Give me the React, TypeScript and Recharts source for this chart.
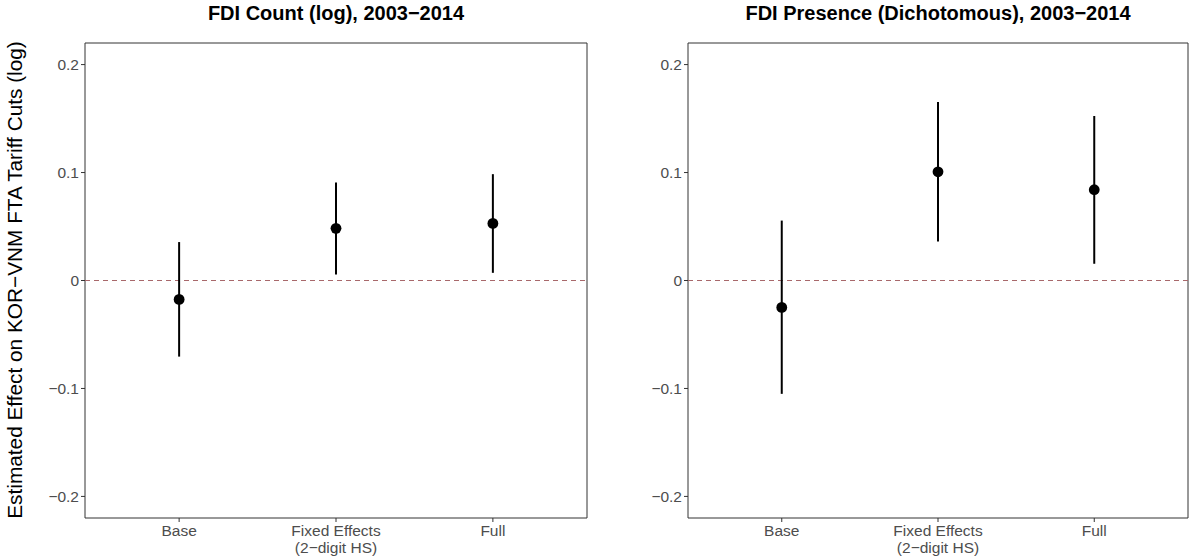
import React from "react";
import {
  ComposedChart,
  Scatter,
  ErrorBar,
  XAxis,
  YAxis,
  ReferenceLine,
  ReferenceArea,
} from "recharts";

// model labels along the x axis
const categories = ["Base", "Fixed Effects\n(2\u2212digit HS)", "Full"];
const positions = [1, 2, 3];

// FDI count (log)
const countEst = [-0.0175, 0.0483, 0.0529];
const countLow = [-0.0705, 0.0056, 0.0071];
const countHigh = [0.0356, 0.0907, 0.0985];

// FDI presence (dichotomous)
const presEst = [-0.0249, 0.1007, 0.0841];
const presLow = [-0.105, 0.0361, 0.0155];
const presHigh = [0.0555, 0.1653, 0.1524];

const yTicks = [-0.2, -0.1, 0, 0.1, 0.2];
const yDomain = [-0.22, 0.22];

const titles = [
  "FDI Count (log), 2003\u22122014",
  "FDI Presence (Dichotomous), 2003\u22122014",
];
const yLabel = "Estimated Effect on KOR\u2212VNM FTA Tariff Cuts (log)";

const FONT = "'Liberation Sans', Arial, Helvetica, sans-serif";
const TICK_COLOR = "#4D4D4D";
const TICK_FONT = 15.5;

function buildRows(est: number[], low: number[], high: number[]) {
  return positions.map((x, i) => ({
    x,
    est: est[i],
    err: [est[i] - low[i], high[i] - est[i]],
  }));
}

const fmtY = (v: number) => (v === 0 ? "0" : v.toFixed(1).replace("-", "\u2212"));

function XTick(props: any) {
  const { x, y, payload } = props;
  const idx = positions.indexOf(payload.value);
  const lines = (categories[idx] ?? "").split("\n");
  return (
    <text x={x} y={y + 2} textAnchor="middle" fill={TICK_COLOR} fontSize={TICK_FONT} fontFamily={FONT}>
      {lines.map((l, i) => (
        <tspan key={i} x={x} dy={i === 0 ? 10 : 17}>
          {l}
        </tspan>
      ))}
    </text>
  );
}

const Dot = (props: any) => <circle cx={props.cx} cy={props.cy} r={5.4} fill="#000" />;

interface PanelProps {
  rows: { x: number; est: number; err: number[] }[];
  width: number;
  left: number;
  right: number;
}

function Panel({ rows, width, left, right }: PanelProps) {
  return (
    <ComposedChart
      width={width}
      height={558}
      data={rows}
      margin={{ top: 43, right, left, bottom: 0 }}
    >
      <XAxis
        dataKey="x"
        type="number"
        domain={[0.4, 3.6]}
        ticks={positions}
        axisLine={false}
        tickLine={{ stroke: "#333" }}
        tickSize={4}
        height={40}
        tick={<XTick />}
        interval={0}
      />
      <YAxis
        type="number"
        domain={yDomain}
        ticks={yTicks}
        allowDataOverflow
        axisLine={false}
        tickLine={{ stroke: "#333" }}
        tickSize={4}
        tickMargin={2}
        width={40}
        tickFormatter={fmtY}
        tick={{ fill: TICK_COLOR, fontSize: TICK_FONT, fontFamily: FONT }}
      />
      <ReferenceLine y={0} stroke="#A8686B" strokeDasharray="5 4" strokeWidth={1} />
      <Scatter dataKey="est" shape={<Dot />} isAnimationActive={false}>
        <ErrorBar dataKey="err" direction="y" width={0} stroke="#000" strokeWidth={2} />
      </Scatter>
      <ReferenceArea
        x1={0.4}
        x2={3.6}
        y1={yDomain[0]}
        y2={yDomain[1]}
        fill="none"
        stroke="#333"
        strokeWidth={1}
      />
    </ComposedChart>
  );
}

export default function App() {
  const countRows = buildRows(countEst, countLow, countHigh);
  const presRows = buildRows(presEst, presLow, presHigh);
  return (
    <div
      style={{
        position: "absolute",
        left: 0,
        top: 0,
        width: 1192,
        height: 558,
        background: "#fff",
        overflow: "hidden",
      }}
    >
      <div style={{ position: "absolute", left: 0, top: 0 }}>
        <Panel rows={countRows} width={600} left={45} right={13} />
      </div>
      <div style={{ position: "absolute", left: 600, top: 0 }}>
        <Panel rows={presRows} width={592} left={48} right={4} />
      </div>
      <svg
        width={1192}
        height={40}
        style={{ position: "absolute", left: 0, top: 0, pointerEvents: "none" }}
      >
        <text x={336} y={19.5} textAnchor="middle" fontFamily={FONT} fontWeight="bold" fontSize={20} fill="#000">
          {titles[0]}
        </text>
        <text x={938} y={19.5} textAnchor="middle" fontFamily={FONT} fontWeight="bold" fontSize={20} fill="#000">
          {titles[1]}
        </text>
      </svg>
      <svg
        width={30}
        height={558}
        style={{ position: "absolute", left: 0, top: 0, pointerEvents: "none" }}
      >
        <text
          transform="translate(22, 280) rotate(-90)"
          textAnchor="middle"
          fontFamily={FONT}
          fontSize={20.8}
          fill="#000"
        >
          {yLabel}
        </text>
      </svg>
    </div>
  );
}
